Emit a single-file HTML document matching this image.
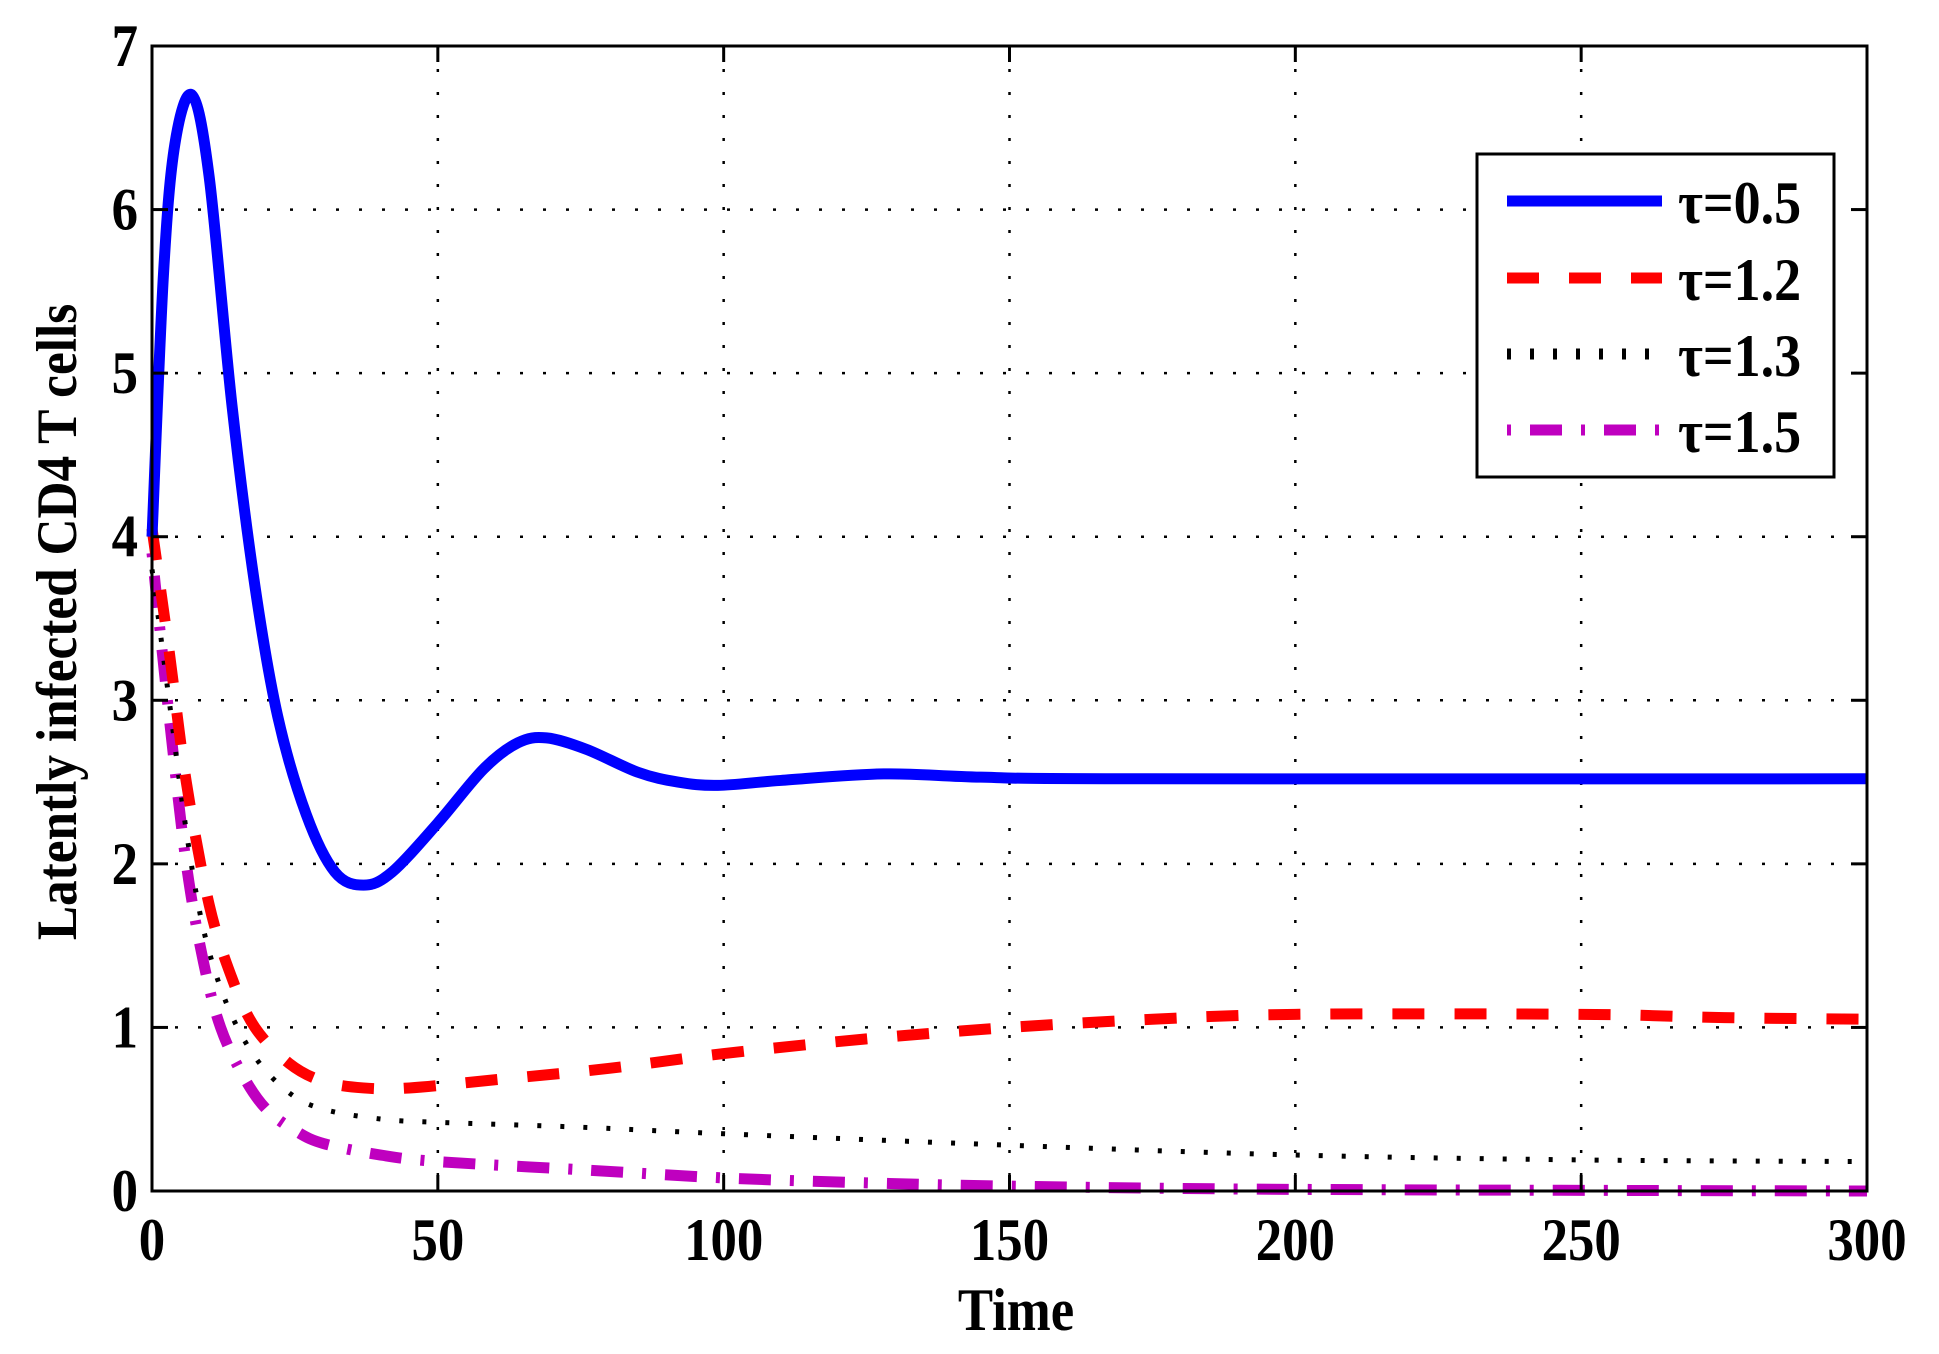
<!DOCTYPE html>
<html><head><meta charset="utf-8"><style>
html,body{margin:0;padding:0;background:#fff;}
svg{display:block}
text{font-family:"Liberation Serif",serif;font-weight:bold;fill:#000}
</style></head><body>
<svg id="s" width="1939" height="1354" xmlns="http://www.w3.org/2000/svg">
<g id="grid" stroke="#000" stroke-width="2.5" stroke-dasharray="3 20"></g>
<g id="curves" fill="none" stroke-linejoin="round"></g>
<g id="frame" stroke="#000" stroke-width="3" fill="none"></g>
<g id="labels" font-size="60"></g>
<text transform="translate(1016,1330) scale(0.88,1)" font-size="60" text-anchor="middle">Time</text>
<text transform="translate(76,622) rotate(-90) scale(0.9,1)" font-size="57" text-anchor="middle">Latently infected CD4 T cells</text>
<rect x="1477" y="154" width="357" height="323" fill="#fff" stroke="#000" stroke-width="3"/>
<line x1="1507" y1="201" x2="1662" y2="201" stroke="#0000ff" stroke-width="11"/>
<line x1="1507" y1="278" x2="1662" y2="278" stroke="#ff0000" stroke-width="11" stroke-dasharray="32 30"/>
<line x1="1507" y1="354" x2="1662" y2="354" stroke="#000" stroke-width="11" stroke-dasharray="4 19"/>
<line x1="1507" y1="430" x2="1662" y2="430" stroke="#bf00bf" stroke-width="11" stroke-dasharray="4 19 32 19"/>
<text transform="translate(1678,223) scale(0.9,1)" font-size="60">τ=0.5</text>
<text transform="translate(1678,300) scale(0.9,1)" font-size="60">τ=1.2</text>
<text transform="translate(1678,376) scale(0.9,1)" font-size="60">τ=1.3</text>
<text transform="translate(1678,452) scale(0.9,1)" font-size="60">τ=1.5</text>
</svg>
<script>
const L=152,R=1867,T=46,B=1191;
const X=t=>L+t*(R-L)/300, Y=v=>B-v*(B-T)/7;
const ns="http://www.w3.org/2000/svg";
function el(p,n,a,txt){const e=document.createElementNS(ns,n);for(const k in a)e.setAttribute(k,a[k]);if(txt!=null)e.textContent=txt;document.getElementById(p).appendChild(e);return e;}
for(let t=50;t<300;t+=50)el("grid","line",{x1:X(t),y1:T,x2:X(t),y2:B});
for(let v=1;v<7;v++)el("grid","line",{x1:L,y1:Y(v),x2:R,y2:Y(v)});
el("frame","rect",{x:L,y:T,width:R-L,height:B-T});
for(let t=0;t<=300;t+=50){const x=X(t);el("frame","line",{x1:x,y1:B,x2:x,y2:B-16});el("frame","line",{x1:x,y1:T,x2:x,y2:T+16});
 el("labels","text",{transform:"translate("+x+",1260) scale(0.88,1)","text-anchor":"middle"},String(t));}
for(let v=0;v<=7;v++){const y=Y(v);el("frame","line",{x1:L,y1:y,x2:L+16,y2:y});el("frame","line",{x1:R,y1:y,x2:R-16,y2:y});
 el("labels","text",{transform:"translate(138,"+(y+20)+") scale(0.88,1)","text-anchor":"end"},String(v));}
function path(pts){const P=pts.map(p=>[X(p[0]),Y(p[1])]);let d="M"+P[0][0]+","+P[0][1];
 for(let i=0;i<P.length-1;i++){const p0=P[Math.max(0,i-1)],p1=P[i],p2=P[i+1],p3=P[Math.min(P.length-1,i+2)];
  const c1=[p1[0]+(p2[0]-p0[0])/6,p1[1]+(p2[1]-p0[1])/6],c2=[p2[0]-(p3[0]-p1[0])/6,p2[1]-(p3[1]-p1[1])/6];
  d+=" C"+c1+" "+c2+" "+p2;}return d;}
const blue=[[0,4],[2,5.6],[4,6.4],[7,6.7],[10,6.2],[14,4.8],[18,3.7],[22,2.9],[27,2.3],[32,1.95],[37,1.87],[42,1.95],[50,2.25],[58,2.58],[64,2.74],[69,2.77],[76,2.7],[85,2.56],[92,2.5],[99,2.48],[110,2.51],[128,2.55],[145,2.53],[170,2.52],[300,2.52]];
const red=[[0,4.05],[3,3.3],[6,2.5],[10,1.75],[14,1.3],[18,1.0],[24,0.78],[30,0.67],[37,0.63],[45,0.63],[60,0.68],[80,0.75],[100,0.84],[125,0.93],[150,1.0],[175,1.05],[200,1.08],[250,1.08],[275,1.06],[300,1.05]];
const blk=[[0,3.8],[3,3.0],[6,2.2],[9,1.6],[13,1.15],[18,0.82],[24,0.6],[30,0.5],[40,0.44],[50,0.42],[75,0.39],[100,0.35],[150,0.28],[200,0.22],[250,0.19],[300,0.18]];
const mag=[[0,3.9],[3,2.9],[6,2.0],[9,1.4],[12,1.0],[16,0.7],[20,0.5],[25,0.37],[30,0.29],[40,0.22],[50,0.18],[75,0.13],[100,0.08],[125,0.05],[150,0.03],[200,0.01],[300,0.0]];
el("curves","path",{d:path(mag),stroke:"#bf00bf","stroke-width":11,"stroke-dasharray":"4 19 32 19"});
el("curves","path",{d:path(blk),stroke:"#000","stroke-width":5,"stroke-dasharray":"4 19"});
el("curves","path",{d:path(red),stroke:"#ff0000","stroke-width":11,"stroke-dasharray":"32 30"});
el("curves","path",{d:path(blue),stroke:"#0000ff","stroke-width":11});
</script>
</body></html>
